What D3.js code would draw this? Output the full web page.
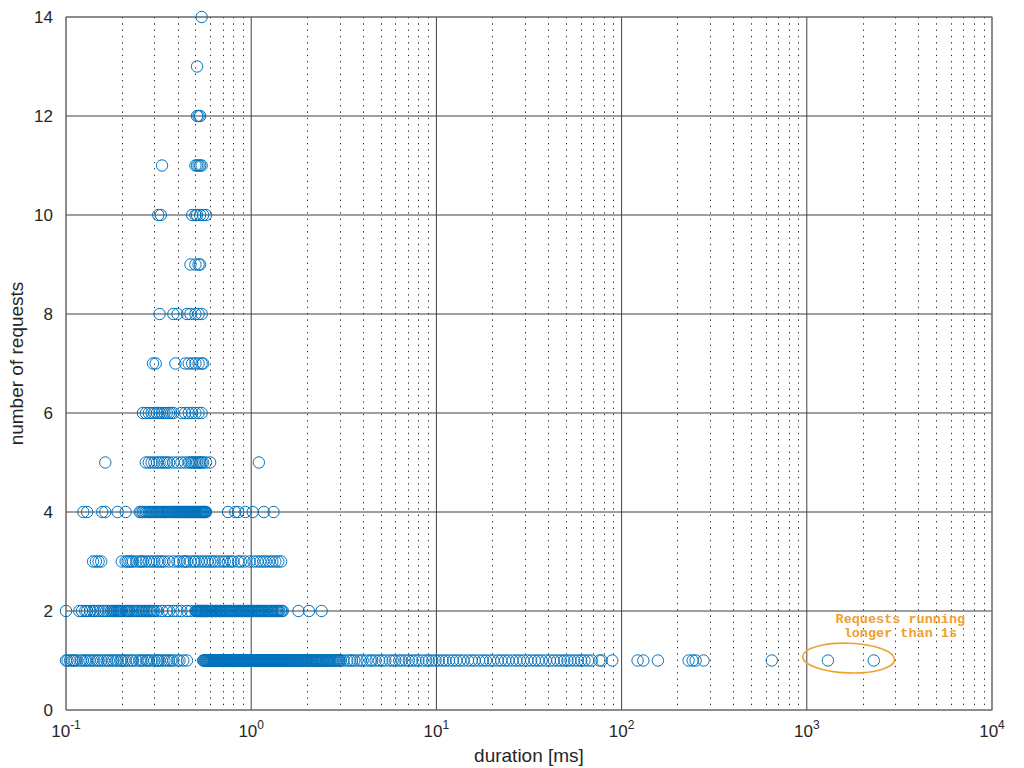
<!DOCTYPE html>
<html>
<head>
<meta charset="utf-8">
<script src="https://cdn.jsdelivr.net/npm/d3@7"></script>
<style>
  body { margin: 0; background: #fff; }
  text { fill: #262626; }
</style>
</head>
<body>
<div id="chart"></div>
<script>
// Durations [ms] of the requests, grouped by how many requests were measured at that duration
const requests1 = [
  0.1, 0.102, 0.105, 0.108, 0.11, 0.112, 0.115, 0.12, 0.123, 0.127, 0.13, 0.134, 0.138, 0.142, 0.147,
  0.15, 0.155, 0.16, 0.166, 0.17, 0.176, 0.18, 0.186, 0.19, 0.197, 0.2, 0.205, 0.21, 0.217, 0.225,
  0.23, 0.24, 0.25, 0.255, 0.26, 0.27, 0.275, 0.28, 0.29, 0.3, 0.31, 0.315, 0.32, 0.33, 0.34, 0.35,
  0.36, 0.37, 0.38, 0.4, 0.41, 0.43, 0.45,
  0.55, 0.555, 0.56, 0.565, 0.57, 0.575, 0.58, 0.585, 0.59, 0.595, 0.6, 0.605, 0.61, 0.615, 0.62,
  0.625, 0.63, 0.635, 0.64, 0.645, 0.65, 0.655, 0.66, 0.665, 0.67, 0.675, 0.68, 0.685, 0.69, 0.695,
  0.7, 0.705, 0.71, 0.715, 0.72, 0.725, 0.73, 0.735, 0.74, 0.745, 0.75, 0.755, 0.76, 0.765, 0.77,
  0.775, 0.78, 0.785, 0.79, 0.795, 0.8, 0.805, 0.81, 0.815, 0.82, 0.825, 0.83, 0.835, 0.84, 0.845,
  0.85, 0.855, 0.86, 0.865, 0.87, 0.875, 0.88, 0.885, 0.89, 0.895, 0.9, 0.905, 0.91, 0.915, 0.92,
  0.925, 0.93, 0.935, 0.94, 0.945, 0.95, 0.955, 0.96, 0.965, 0.97, 0.975, 0.98, 0.985, 0.99, 0.995,
  1.0, 1.005, 1.01, 1.015, 1.02, 1.025, 1.03, 1.035, 1.04, 1.045, 1.05, 1.055, 1.06, 1.065, 1.07,
  1.075, 1.08, 1.085, 1.09, 1.095, 1.1, 1.105, 1.11, 1.115, 1.12, 1.125, 1.13, 1.135, 1.14, 1.145,
  1.15, 1.155, 1.16, 1.165, 1.17, 1.175, 1.18, 1.185, 1.19, 1.195, 1.2, 1.205, 1.21, 1.215, 1.22,
  1.225, 1.23, 1.235, 1.24, 1.245, 1.25, 1.255, 1.26, 1.27, 1.28, 1.285, 1.29, 1.295, 1.3, 1.305,
  1.31, 1.32, 1.33, 1.335, 1.34, 1.345, 1.35, 1.36, 1.37, 1.375, 1.38, 1.39, 1.4, 1.405, 1.41, 1.42,
  1.43, 1.435, 1.44, 1.45, 1.46, 1.47, 1.48, 1.49, 1.5,
  1.51, 1.53, 1.545, 1.56, 1.58, 1.6, 1.615, 1.63, 1.645, 1.66, 1.68, 1.7, 1.715, 1.73, 1.75, 1.77,
  1.785, 1.8, 1.82, 1.84, 1.86, 1.88, 1.9, 1.92, 1.94, 1.96, 1.98, 2.0, 2.02, 2.05, 2.07, 2.1, 2.12,
  2.15, 2.17, 2.2, 2.22, 2.25, 2.27, 2.3, 2.33, 2.36, 2.39, 2.42, 2.45, 2.48, 2.52, 2.55, 2.58, 2.6,
  2.64, 2.68, 2.71, 2.75, 2.79, 2.82, 2.86, 2.9, 2.94, 2.98, 3.0, 3.05, 3.15, 3.3, 3.4,
  3.5, 3.6, 3.75, 3.9, 4.0, 4.2, 4.4, 4.5, 4.7, 4.9, 5.1, 5.3, 5.6, 5.8, 6.0, 6.3, 6.5, 6.8, 7.1,
  7.4, 7.7, 8.0, 8.4, 8.8, 9.1, 9.5, 9.9, 10.3, 10.8, 11.2, 11.7, 12.3, 12.8, 13.4, 14.0, 14.8,
  15.5, 16.1, 17.0, 17.8, 18.5, 19.5, 20.3, 21.5, 22.4, 23.5, 24.5, 25.8, 27, 28.2, 29.5, 31,
  32.5, 34, 35.5, 37, 39, 41, 43, 45, 47, 49, 51, 53, 55.5, 58, 60.5, 63, 66, 69, 76, 78, 89,
  122, 131, 157, 230, 242, 251, 277, 647, 1300, 2300
];
const requests2 = [
  0.1, 0.118, 0.122, 0.127, 0.13, 0.135, 0.14, 0.143, 0.148, 0.152, 0.157, 0.16, 0.165, 0.17,
  0.175, 0.178, 0.18, 0.183, 0.185, 0.188, 0.19, 0.193, 0.195, 0.198, 0.2, 0.205, 0.21, 0.212,
  0.215, 0.218, 0.22, 0.225, 0.23, 0.235, 0.24, 0.245, 0.25, 0.255, 0.26, 0.265, 0.27, 0.275,
  0.28, 0.285, 0.29, 0.295, 0.3, 0.31, 0.33, 0.35, 0.36, 0.38, 0.4, 0.42, 0.45, 0.47,
  0.5, 0.505, 0.51, 0.515, 0.52, 0.525, 0.53, 0.535, 0.54, 0.545, 0.55, 0.555, 0.56, 0.565, 0.57,
  0.575, 0.58, 0.59, 0.6, 0.605, 0.61, 0.615, 0.62, 0.63, 0.64, 0.645, 0.65, 0.66, 0.67, 0.675,
  0.68, 0.69, 0.7, 0.71, 0.72, 0.73, 0.74, 0.75, 0.76, 0.77, 0.78, 0.79, 0.8, 0.81, 0.82, 0.83,
  0.84, 0.85, 0.86, 0.87, 0.88, 0.89, 0.9, 0.91, 0.92, 0.935, 0.95, 0.96, 0.97, 0.985, 1.0, 1.01,
  1.02, 1.035, 1.05, 1.065, 1.08, 1.09, 1.1, 1.115, 1.13, 1.145, 1.16, 1.18, 1.2, 1.22, 1.24,
  1.26, 1.28, 1.3, 1.32, 1.34, 1.36, 1.38, 1.4, 1.42, 1.45, 1.46, 1.48, 1.8, 2.05, 2.4
];
const requests3 = [
  0.14, 0.145, 0.15, 0.155,
  0.2, 0.21, 0.215, 0.22, 0.225, 0.23, 0.24, 0.25, 0.255, 0.26, 0.27, 0.28, 0.29, 0.3, 0.31, 0.32,
  0.33, 0.34, 0.36, 0.38, 0.4, 0.41, 0.43, 0.44, 0.45, 0.47, 0.49, 0.5, 0.52, 0.54, 0.56, 0.58,
  0.6, 0.62, 0.64, 0.67, 0.7, 0.72, 0.75, 0.78, 0.8, 0.85, 0.88, 0.92, 0.98, 1.03, 1.08, 1.12,
  1.16, 1.2, 1.25, 1.3, 1.35, 1.4, 1.45
];
const requests4 = [
  0.124, 0.13, 0.157, 0.163, 0.19, 0.21,
  0.25, 0.255, 0.26, 0.265, 0.27, 0.275, 0.28, 0.285, 0.29, 0.295, 0.3, 0.305, 0.31, 0.315, 0.32,
  0.325, 0.33, 0.335, 0.34, 0.345, 0.35, 0.355, 0.36, 0.365, 0.37, 0.375, 0.38, 0.385, 0.39, 0.395,
  0.4, 0.405, 0.41, 0.415, 0.42, 0.425, 0.43, 0.435, 0.44, 0.445, 0.45, 0.455, 0.46, 0.465, 0.47,
  0.475, 0.48, 0.485, 0.49, 0.495, 0.5, 0.505, 0.51, 0.515, 0.52, 0.525, 0.53, 0.535, 0.54, 0.545,
  0.55, 0.555, 0.56, 0.565, 0.57,
  0.75, 0.82, 0.85, 0.93, 1.02, 1.17, 1.32
];
const requests5 = [
  0.163,
  0.27, 0.28, 0.29, 0.3, 0.31, 0.32, 0.33, 0.34, 0.35, 0.36, 0.38, 0.4, 0.42, 0.44, 0.46, 0.47,
  0.48, 0.49, 0.5, 0.51, 0.52, 0.53, 0.54, 0.55, 0.57, 0.6,
  1.1
];
const requests6 = [
  0.26, 0.27, 0.28, 0.29, 0.3, 0.31, 0.32, 0.33, 0.34, 0.35, 0.36, 0.37, 0.38,
  0.42, 0.44, 0.46, 0.48, 0.5, 0.52, 0.54
];
const requests7 = [0.295, 0.305, 0.39, 0.44, 0.46, 0.48, 0.5, 0.52, 0.54, 0.55];
const requests8 = [0.32, 0.38, 0.4, 0.45, 0.47, 0.5, 0.52, 0.54];
const requests9 = [0.47, 0.5, 0.52, 0.53];
const requests10 = [0.315, 0.325, 0.48, 0.5, 0.51, 0.53, 0.55, 0.57];
const requests11 = [0.33, 0.5, 0.51, 0.52, 0.53, 0.54];
const requests12 = [0.51, 0.52, 0.53];
const requests13 = [0.51];
const requests14 = [0.54];

const requestCounts = [1, 2, 3, 4, 5, 6, 7, 8, 9, 10, 11, 12, 13, 14];
const requestRows = [requests1, requests2, requests3, requests4, requests5, requests6, requests7,
  requests8, requests9, requests10, requests11, requests12, requests13, requests14];

const xDecades = [-1, 0, 1, 2, 3, 4];
const yTicks = [0, 2, 4, 6, 8, 10, 12, 14];
const noteLines = ["Requests running", "longer than 1s"];

const sans = "'Liberation Sans', Arial, Helvetica, sans-serif";
const mono = "'Liberation Mono', 'Courier New', monospace";

// Set the dimensions and margins of the graph
const margin = { top: 17, right: 32, bottom: 58, left: 66 },
    width = 1024 - margin.left - margin.right,
    height = 768 - margin.top - margin.bottom;

const svg = d3.select("#chart")
    .append("svg")
    .attr("width", width + margin.left + margin.right)
    .attr("height", height + margin.top + margin.bottom)
    .style("font-family", sans)
    .append("g")
    .attr("transform", `translate(${margin.left},${margin.top})`);

const x = d3.scaleLog().domain([0.1, 10000]).range([0, width]);
const y = d3.scaleLinear().domain([0, 14]).range([height, 0]);

// Minor vertical grid (2..9 in each decade), dotted
const minorTicks = [];
xDecades.slice(0, -1).forEach(d => {
    for (let k = 2; k <= 9; k++) minorTicks.push(k * Math.pow(10, d));
});
svg.append("g")
    .selectAll("line")
    .data(minorTicks)
    .join("line")
    .attr("x1", d => Math.round(x(d)) + 0.5).attr("x2", d => Math.round(x(d)) + 0.5)
    .attr("y1", 0).attr("y2", height)
    .attr("stroke", "#262626")
    .attr("stroke-width", 1)
    .attr("stroke-dasharray", "1.3,5");

// Major grid
svg.append("g")
    .selectAll("line")
    .data(xDecades)
    .join("line")
    .attr("x1", d => x(Math.pow(10, d))).attr("x2", d => x(Math.pow(10, d)))
    .attr("y1", 0).attr("y2", height)
    .attr("stroke", "#404040")
    .attr("stroke-width", 1);

svg.append("g")
    .selectAll("line")
    .data(yTicks)
    .join("line")
    .attr("x1", 0).attr("x2", width)
    .attr("y1", d => y(d)).attr("y2", d => y(d))
    .attr("stroke", "#404040")
    .attr("stroke-width", 1);

// Axes box
svg.append("rect")
    .attr("x", 0).attr("y", 0)
    .attr("width", width).attr("height", height)
    .attr("fill", "none")
    .attr("stroke", "#7a7a7a")
    .attr("stroke-width", 1);

// Tick labels
svg.append("g")
    .selectAll("text")
    .data(yTicks)
    .join("text")
    .attr("x", -13)
    .attr("y", d => y(d))
    .attr("dy", "0.35em")
    .attr("text-anchor", "end")
    .attr("font-size", 17)
    .text(d => d);

const xLabels = svg.append("g")
    .selectAll("text")
    .data(xDecades)
    .join("text")
    .attr("x", d => x(Math.pow(10, d)))
    .attr("y", height + 27)
    .attr("text-anchor", "middle")
    .attr("font-size", 17);
xLabels.append("tspan").text("10");
xLabels.append("tspan")
    .attr("dy", -8)
    .attr("font-size", 12)
    .text(d => d);

// Axis titles
svg.append("text")
    .attr("x", width / 2)
    .attr("y", height + 52)
    .attr("text-anchor", "middle")
    .attr("font-size", 19)
    .text("duration [ms]");

svg.append("text")
    .attr("transform", "rotate(-90)")
    .attr("x", -height / 2)
    .attr("y", -43)
    .attr("text-anchor", "middle")
    .attr("font-size", 19)
    .text("number of requests");

// Scatter markers
const points = [];
requestRows.forEach((row, i) => row.forEach(v => points.push({ duration: v, count: requestCounts[i] })));

svg.append("g")
    .selectAll("circle")
    .data(points)
    .join("circle")
    .attr("cx", d => x(d.duration))
    .attr("cy", d => y(d.count))
    .attr("r", 5.7)
    .attr("fill", "none")
    .attr("stroke", "#0072BD")
    .attr("stroke-width", 1);

// Annotation for the slow requests
const ellipseLeft = x(950), ellipseRight = x(2980);
svg.append("ellipse")
    .attr("cx", (ellipseLeft + ellipseRight) / 2)
    .attr("cy", y(1.05))
    .attr("rx", (ellipseRight - ellipseLeft) / 2)
    .attr("ry", y(0.7) - y(1.0))
    .attr("transform", `rotate(2,${(ellipseLeft + ellipseRight) / 2},${y(1.05)})`)
    .attr("fill", "none")
    .attr("stroke", "#F0A030")
    .attr("stroke-width", 1.6);

svg.append("g")
    .selectAll("text")
    .data(noteLines)
    .join("text")
    .attr("x", x(3200))
    .attr("y", (d, i) => y(1.75) + i * 14)
    .attr("text-anchor", "middle")
    .style("font-family", mono)
    .attr("font-weight", "bold")
    .attr("font-size", 13.5)
    .style("fill", "#EFA030")
    .text(d => d);
</script>
</body>
</html>
